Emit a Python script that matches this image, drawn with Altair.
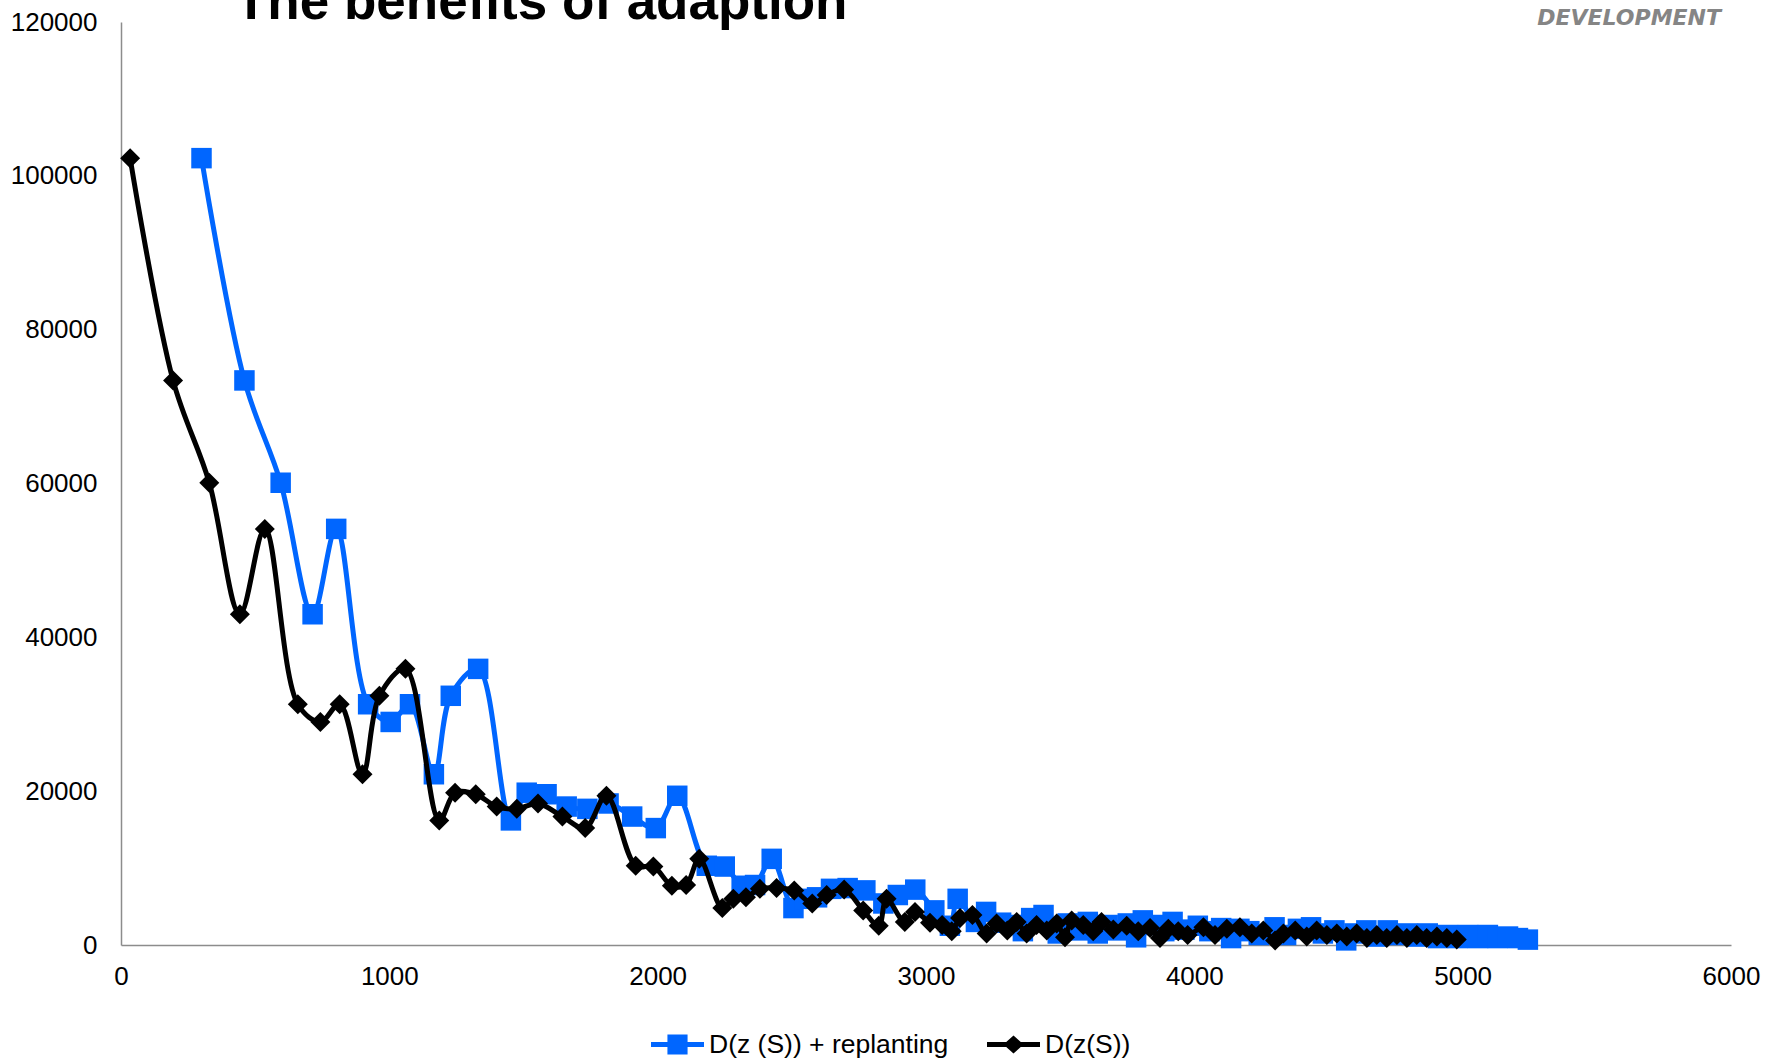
import altair as alt
import pandas as pd

chart_title = "The benefits of adaption"
brand_text = "DEVELOPMENT"
series_names = ["D(z (S)) + replanting", "D(z(S))"]
series_colors = ["#0066ff", "#000000"]

x_ticks = [0, 1000, 2000, 3000, 4000, 5000, 6000]
y_ticks = [0, 20000, 40000, 60000, 80000, 100000, 120000]

# S positions of the plain D(z(S)) curve
s_plain = [34, 194, 329, 443, 536, 659, 743, 815, 900, 963,
           1060, 1186, 1245, 1322, 1400, 1475, 1554, 1645, 1730, 1809,
           1918, 1984, 2053, 2106, 2155, 2241, 2282, 2329, 2381, 2443,
           2509, 2576, 2630, 2695, 2766, 2824, 2853, 2921, 2959, 3015,
           3060, 3096, 3127, 3173, 3226, 3263, 3303, 3338, 3375, 3412,
           3450, 3487, 3518, 3543, 3586, 3623, 3654, 3698, 3748, 3791,
           3835, 3872, 3903, 3940, 3975, 4034, 4077, 4121, 4170, 4214,
           4257, 4301, 4332, 4376, 4419, 4456, 4494, 4531, 4568, 4605,
           4643, 4680, 4717, 4755, 4792, 4829, 4866, 4904, 4941, 4978]

# S positions of the curve with replanting
s_replanting = [300, 460, 595, 714, 802, 921, 1005, 1077, 1166, 1229,
                1331, 1453, 1512, 1586, 1661, 1738, 1817, 1905, 1993, 2073,
                2183, 2250, 2313, 2363, 2425, 2506, 2547, 2594, 2646, 2708,
                2774, 2841, 2895, 2960, 3031, 3089, 3118, 3186, 3224, 3280,
                3325, 3361, 3392, 3438, 3491, 3528, 3568, 3603, 3640, 3677,
                3715, 3752, 3783, 3808, 3851, 3888, 3919, 3963, 4013, 4056,
                4100, 4137, 4168, 4205, 4240, 4299, 4342, 4386, 4435, 4479,
                4522, 4566, 4597, 4641, 4684, 4721, 4759, 4796, 4833, 4870,
                4908, 4945, 4982, 5020, 5057, 5094, 5131, 5169, 5206, 5243]

# D values, shared point for point by both curves
d_values = [102300, 73400, 60100, 43000, 54100, 31300, 29000, 31300, 22200, 32400,
            35900, 16200, 19800, 19600, 18000, 17700, 18400, 16700, 15200, 19400,
            10300, 10200, 7700, 7800, 11200, 4800, 6000, 6200, 7300, 7400,
            7100, 5400, 6500, 7200, 4500, 2500, 6000, 3000, 4300, 2900,
            2600, 1800, 3500, 3900, 1500, 2800, 1900, 3000, 1500, 2600,
            1900, 2800, 1000, 3200, 2600, 1800, 3000, 2000, 2500, 1800,
            2200, 900, 2100, 1800, 1300, 2300, 1300, 2100, 2300, 1500,
            1900, 600, 1500, 1900, 1100, 1900, 1300, 1500, 1100, 1500,
            900, 1300, 900, 1300, 900, 1300, 900, 1100, 900, 700]

plain = pd.DataFrame({"S": s_plain, "D": d_values})
replant = pd.DataFrame({"S": s_replanting, "D": d_values})
legend_rows = pd.DataFrame({"series": series_names})

FONT = "Liberation Sans"

x_enc = alt.X(
    "S:Q",
    scale=alt.Scale(domain=[0, 6000], nice=False, zero=False),
    axis=alt.Axis(values=x_ticks, format="d", title=None, ticks=False, grid=False,
                  labelFlush=False, labelPadding=18, labelFontSize=26, labelFont=FONT,
                  labelColor="#000000", domainColor="#8c8c8c", domainWidth=1.5),
)
y_enc = alt.Y(
    "D:Q",
    scale=alt.Scale(domain=[0, 120000], nice=False),
    axis=alt.Axis(values=y_ticks, format="d", title=None, ticks=False, grid=False,
                  labelPadding=24, labelFontSize=26, labelFont=FONT,
                  labelColor="#000000", domainColor="#8c8c8c", domainWidth=1.5),
)

line_props = dict(strokeWidth=5, interpolate="catmull-rom")

replant_line = alt.Chart(replant).mark_line(color=series_colors[0], **line_props).encode(x=x_enc, y=y_enc)
replant_pts = alt.Chart(replant).mark_point(shape="square", filled=True, opacity=1, size=420,
                                           color=series_colors[0]).encode(x=x_enc, y=y_enc)
plain_line = alt.Chart(plain).mark_line(color=series_colors[1], **line_props).encode(x=x_enc, y=y_enc)
plain_pts = alt.Chart(plain).mark_point(shape="diamond", filled=True, opacity=1, size=400,
                                        color=series_colors[1]).encode(x=x_enc, y=y_enc)

# legend symbols: a short line segment with the series marker on it
line_square = "M-1,-0.095L1,-0.095L1,0.095L-1,0.095Z M-0.38,-0.38L0.38,-0.38L0.38,0.38L-0.38,0.38Z"
line_diamond = "M-1,-0.095L1,-0.095L1,0.095L-1,0.095Z M-0.38,0L0,-0.34L0.38,0L0,0.34Z"

legend = alt.Legend(orient="none", legendX=530, legendY=996, direction="horizontal",
                    symbolSize=2809, symbolOpacity=1, symbolStrokeWidth=0,
                    labelFontSize=26.5, labelFont=FONT, labelColor="#000000", labelLimit=0,
                    labelOffset=5, columnPadding=38, padding=0)

legend_layer = alt.Chart(legend_rows).mark_point(filled=True, opacity=0).encode(
    color=alt.Color("series:N", title=None, sort=series_names,
                    scale=alt.Scale(domain=series_names, range=series_colors), legend=legend),
    shape=alt.Shape("series:N", title=None, sort=series_names,
                    scale=alt.Scale(domain=series_names, range=[line_square, line_diamond]),
                    legend=legend),
)

title_layer = alt.Chart(pd.DataFrame({"t": [chart_title]})).mark_text(
    font=FONT, fontSize=53, fontWeight="bold", align="left", baseline="alphabetic",
    color="#000000",
).encode(text="t:N", x=alt.value(114), y=alt.value(-3))

brand_layer = alt.Chart(pd.DataFrame({"t": [brand_text]})).mark_text(
    font="DejaVu Sans", fontSize=22, fontWeight="bold", fontStyle="italic",
    align="right", baseline="alphabetic", color="#858585",
).encode(text="t:N", x=alt.value(1600), y=alt.value(3))

chart = alt.layer(
    replant_line, replant_pts, plain_line, plain_pts, legend_layer, title_layer, brand_layer
).properties(
    width=1610,
    height=923,
    autosize=alt.AutoSizeParams(type="none"),
    padding={"left": 121, "top": 22, "right": 44, "bottom": 115},
    background="#ffffff",
).configure_view(strokeWidth=0)

chart.save("out.html", embed_options={"renderer": "svg", "actions": False})
